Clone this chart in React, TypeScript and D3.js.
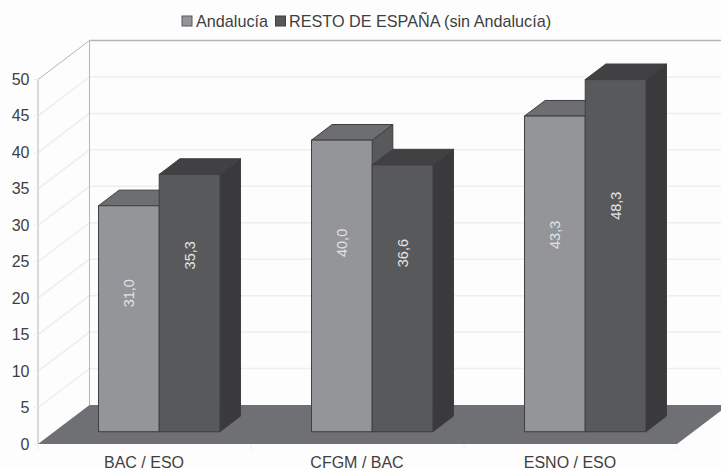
import React from "react";
import * as d3 from "d3";

const categories = ["BAC / ESO", "CFGM / BAC", "ESNO / ESO"];
const seriesNames = ["Andalucía", "RESTO DE ESPAÑA (sin Andalucía)"];
const andalucia = [31.0, 40.0, 43.3];
const restoEspana = [35.3, 36.6, 48.3];
const yTicks = [0, 5, 10, 15, 20, 25, 30, 35, 40, 45, 50];
// height (in axis units) where each rotated label sits
const andaluciaLabelAt = [19, 25.9, 27];
const restoLabelAt = [24.2, 24.5, 31];

const width = 721;
const height = 470;
const textColor = "#3f3f41";
const gridColor = "#eeeeee";
const wallColor = "#b4b5b7";
const font = "'Liberation Sans', Arial, sans-serif";

// depth of the 3D box, in pixels
const depthX = 51.5;
const depthY = 39;
const barFront = 0.315; // how far back the front of the bars is
const barDepth = 0.4; // depth of the bars as a part of the box

const styles = [
  { front: "#939598", top: "#6d6e71", side: "#58595b" },
  { front: "#58595b", top: "#414042", side: "#3a3a3c" },
];

const y = d3.scaleLinear().domain([0, 50]).range([444, 79.5]);
const x0 = d3
  .scaleBand<string>()
  .domain(categories)
  .range([36.5, 675.5])
  .paddingInner(0.43)
  .paddingOuter(0.215);
const x1 = d3
  .scaleBand<number>()
  .domain([0, 1])
  .range([0, x0.bandwidth()]);

// move a front-plane point back into the box
const px = (x: number, d: number) => x + depthX * d;
const py = (v: number, d: number) => y(v) - depthY * d;

const poly = (pts: number[][]) => (d3.line()(pts as [number, number][]) || "") + "Z";

const Bar = ({ cat, s, value, labelAt }: any) => {
  const left = px((x0(cat) as number) + (x1(s) as number), barFront);
  const w = x1.bandwidth();
  const top = py(value, barFront);
  const base = py(0, barFront);
  const dx = depthX * barDepth;
  const dy = depthY * barDepth;
  const c = styles[s];
  const edge = "#3f3f41";
  const lx = left + w / 2;
  const ly = py(labelAt, barFront);
  return (
    <g>
      <path
        d={poly([[left + w, top], [left + w + dx, top - dy], [left + w + dx, base - dy], [left + w, base]])}
        fill={c.side}
        stroke={edge}
      />
      <path
        d={poly([[left, top], [left + dx, top - dy], [left + w + dx, top - dy], [left + w, top]])}
        fill={c.top}
        stroke={edge}
      />
      <rect x={left} y={top} width={w} height={base - top} fill={c.front} stroke={edge} />
      <text
        transform={`translate(${lx},${ly}) rotate(-90)`}
        textAnchor="middle"
        dominantBaseline="central"
        fontSize={14.5}
        fill="#e2e3e4"
      >
        {value.toFixed(1).replace(".", ",")}
      </text>
    </g>
  );
};

export default function App() {
  const backRight = width;
  const floorFrontRight = 677;
  return (
    <svg
      width={width}
      height={height}
      viewBox={`0 0 ${width} ${height}`}
      style={{ position: "absolute", left: 0, top: 0, background: "#fdfdfd" }}
      fontFamily={font}
    >
      {/* legend */}
      <g fontSize={16.2} fill={textColor}>
        <rect x={182} y={16} width={10} height={10} fill={styles[0].front} stroke="#58595b" />
        <text x={196} y={26.5}>{seriesNames[0]}</text>
        <rect x={275.5} y={16} width={10} height={10} fill={styles[1].front} stroke="#3f3f41" />
        <text x={289} y={26.5}>{seriesNames[1]}</text>
      </g>

      {/* walls and grid */}
      {yTicks.slice(1, -1).map((t) => (
        <g key={t} stroke={gridColor} strokeWidth={1.5} fill="none">
          <line x1={38} y1={y(t)} x2={px(38, 1)} y2={py(t, 1)} />
          <line x1={px(38, 1)} y1={py(t, 1)} x2={backRight} y2={py(t, 1)} />
        </g>
      ))}
      <g stroke={wallColor} fill="none">
        <path d={`M38,${y(0)}V${y(50)}L${px(38, 1)},${py(50, 1)}V${py(0, 1)}`} />
        <line x1={px(38, 1)} y1={py(50, 1)} x2={backRight} y2={py(50, 1)} strokeWidth={1.5} />
      </g>

      {/* floor */}
      <path
        d={poly([
          [38, y(0)],
          [px(38, 1), py(0, 1)],
          [px(floorFrontRight, 1), py(0, 1)],
          [floorFrontRight, y(0)],
        ])}
        fill="#6f7073"
      />

      {/* axis ticks */}
      {yTicks.map((t) => (
        <g key={t}>
          <line x1={34} x2={38} y1={y(t)} y2={y(t)} stroke={gridColor} />
          <text x={29.5} y={y(t)} textAnchor="end" dominantBaseline="central" fontSize={16} fill={textColor}>
            {t}
          </text>
        </g>
      ))}
      {[0, 1, 2, 3].map((i) => (
        <line
          key={i}
          x1={38 + (i * (floorFrontRight - 38)) / 3}
          x2={38 + (i * (floorFrontRight - 38)) / 3}
          y1={y(0)}
          y2={y(0) + 6}
          stroke={gridColor}
        />
      ))}
      {categories.map((c) => (
        <text
          key={c}
          x={(x0(c) as number) + x0.bandwidth() / 2 + 1}
          y={468}
          textAnchor="middle"
          fontSize={16}
          fill={textColor}
        >
          {c}
        </text>
      ))}

      {/* bars */}
      {categories.map((c, i) => (
        <g key={c}>
          <Bar cat={c} s={0} value={andalucia[i]} labelAt={andaluciaLabelAt[i]} />
          <Bar cat={c} s={1} value={restoEspana[i]} labelAt={restoLabelAt[i]} />
        </g>
      ))}
    </svg>
  );
}
